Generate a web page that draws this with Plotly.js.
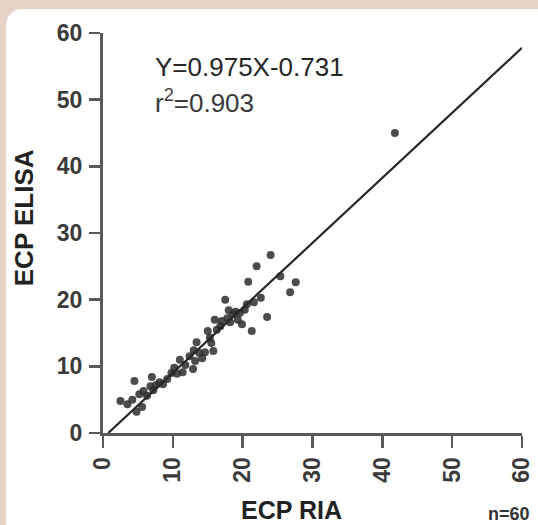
<!DOCTYPE html>
<html>
<head>
<meta charset="utf-8">
<script src="https://cdn.plot.ly/plotly-3.0.1.min.js"></script>
<style>
  html, body { margin: 0; padding: 0; width: 538px; height: 525px; overflow: hidden; background: #e6d3c5; }
  #panel { position: absolute; left: 6px; top: 9px; width: 560px; height: 540px; background: #ffffff; border-radius: 16px; }
  #chart { position: absolute; left: 0; top: 0; width: 538px; height: 525px; }
</style>
</head>
<body>
<div id="panel"></div>
<div id="chart"></div>
<script>
// ECP RIA (x) vs ECP ELISA (y), n = 60
const ria = [
  2.5, 3.5, 4.2, 4.5, 4.8, 5.2, 5.6, 5.8, 6.3, 6.8, 7.2, 7.6, 8.1, 8.6, 9.2,
  10.2, 10.6, 11.0, 11.4, 11.8, 12.4, 12.9, 13.2, 13.4, 13.8, 14.2, 14.6, 15.0, 15.3, 15.5, 15.8, 16.0, 16.3,
  16.8, 17.0, 17.5, 17.8, 18.2, 18.6, 19.0, 19.3, 19.6, 19.9, 20.3, 20.6, 20.8, 21.3, 21.6,
  22.0, 22.6, 23.5, 24.0, 25.4, 26.8, 27.6, 41.8,
  13.0, 9.8, 7.0, 18.0
];
const elisa = [
  4.8, 4.3, 5.0, 7.8, 3.2, 5.8, 3.9, 6.3, 5.6, 7.0, 6.4, 7.2, 7.6, 7.3, 8.1,
  9.8, 8.9, 11.0, 9.1, 10.2, 11.5, 9.6, 10.8, 13.6, 12.0, 11.2, 12.1, 15.3, 14.3, 13.5, 12.3, 17.0, 15.5,
  16.0, 16.8, 20.0, 17.2, 16.6, 17.8, 18.2, 17.0, 18.0, 16.3, 18.5, 19.3, 22.7, 15.3, 19.6,
  25.0, 20.3, 17.4, 26.7, 23.5, 21.1, 22.6, 45.0,
  12.4, 9.0, 8.4, 18.4
];
// regression line Y = 0.975X - 0.731
const slope = 0.975, intercept = -0.731;
const fitX = [0.75, 60];
const fitY = fitX.map(v => slope * v + intercept);
const tickVals = [0, 10, 20, 30, 40, 50, 60];
const tickText = ['0', '10', '20', '30', '40', '50', '60'];

const axisCol = '#5a5a5a';
const fam = 'Liberation Sans, Arial, sans-serif';
const tickFont = {family: fam, size: 23, color: '#3a3a3a', weight: 'bold'};

const traces = [
  {x: ria, y: elisa, type: 'scatter', mode: 'markers',
   marker: {symbol: 'circle', size: 8, color: 'rgba(45,45,45,0.85)'},
   hoverinfo: 'x+y', showlegend: false},
  {x: fitX, y: fitY, type: 'scatter', mode: 'lines',
   line: {color: '#262626', width: 2.2}, hoverinfo: 'skip', showlegend: false}
];

const layout = {
  width: 538, height: 525,
  margin: {l: 103, r: 16, t: 33, b: 92, pad: 0},
  paper_bgcolor: 'rgba(0,0,0,0)', plot_bgcolor: 'rgba(0,0,0,0)',
  showlegend: false,
  xaxis: {range: [0, 60], tickvals: tickVals, ticktext: tickText, tickangle: -90,
          showline: true, linecolor: axisCol, linewidth: 3, ticks: 'outside', ticklen: 12,
          tickwidth: 2.5, tickcolor: axisCol, showgrid: false, zeroline: false,
          tickfont: tickFont, ticklabelstandoff: 0, fixedrange: true},
  yaxis: {range: [0, 60], tickvals: tickVals, ticktext: tickText,
          showline: true, linecolor: axisCol, linewidth: 3, ticks: 'outside', ticklen: 11,
          tickwidth: 2.5, tickcolor: axisCol, showgrid: false, zeroline: false,
          tickfont: tickFont, ticklabelstandoff: 2, fixedrange: true},
  annotations: [
    {text: 'Y=0.975X-0.731', xref: 'x', yref: 'y', x: 7.2, y: 54.9, xanchor: 'left', yanchor: 'middle',
     showarrow: false, font: {family: fam, size: 26, color: '#262626'}},
    {text: 'r<sup>2</sup>=0.903', xref: 'x', yref: 'y', x: 7.2, y: 49.8, xanchor: 'left', yanchor: 'middle',
     showarrow: false, font: {family: fam, size: 26, color: '#3a3a3a'}},
    {text: 'ECP RIA', xref: 'paper', yref: 'paper', x: 0.449, y: -0.193, xanchor: 'center', yanchor: 'middle',
     showarrow: false, font: {family: fam, size: 25, color: '#222', weight: 'bold'}},
    {text: 'ECP ELISA', xref: 'paper', yref: 'paper', x: -0.1885, y: 0.537, xanchor: 'center', yanchor: 'middle',
     textangle: -90, showarrow: false,
     font: {family: fam, size: 26, color: '#222', weight: 'bold'}},
    {text: 'n=60', xref: 'paper', yref: 'paper', x: 0.915, y: -0.203, xanchor: 'left', yanchor: 'middle',
     showarrow: false, font: {family: fam, size: 18, color: '#333', weight: 'bold'}}
  ]
};

Plotly.newPlot('chart', traces, layout, {displayModeBar: false, staticPlot: true});
</script>
</body>
</html>
